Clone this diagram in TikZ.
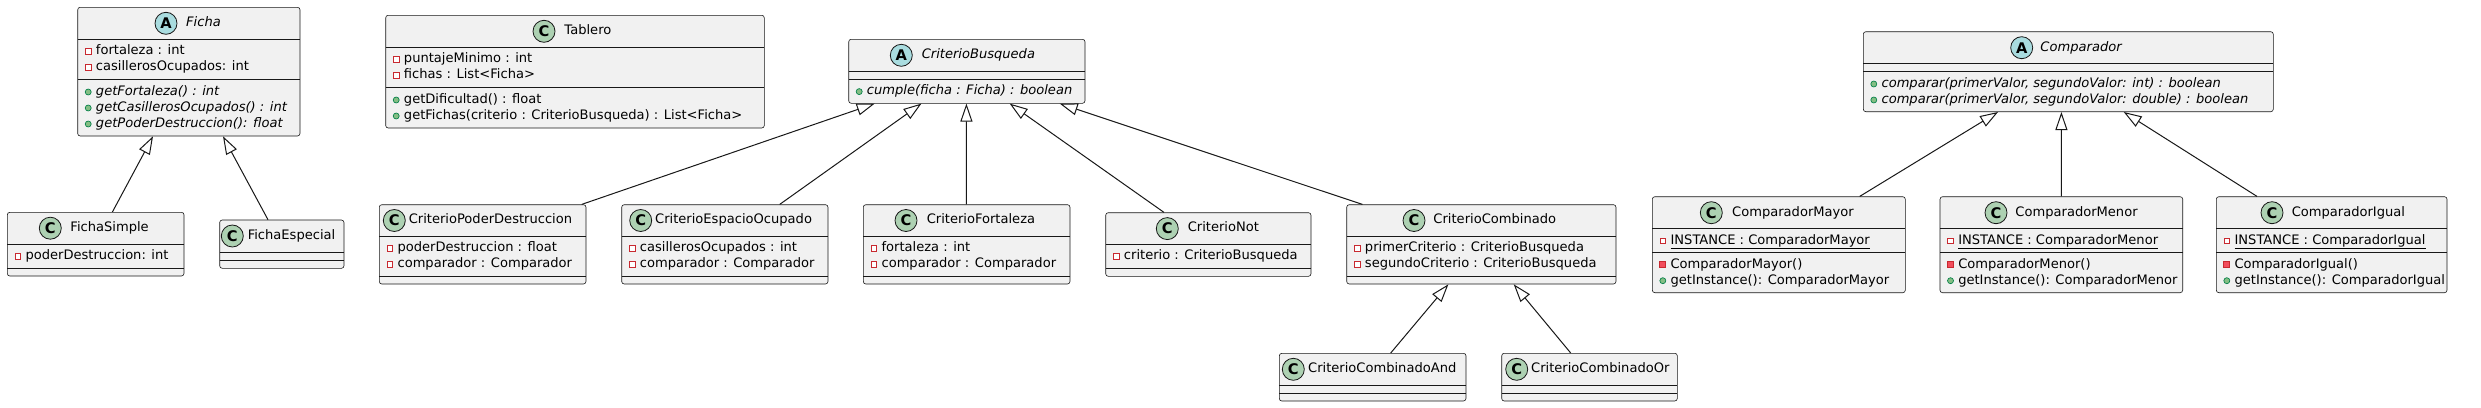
\documentclass[tikz,border=0pt]{standalone}
\usepackage{fontspec}
\setmainfont{DejaVu Sans}
\usetikzlibrary{arrows.meta,fit,calc}
\definecolor{boxfill}{HTML}{F1F1F1}
\definecolor{linec}{HTML}{181818}
\definecolor{cgreen}{HTML}{ADD1B2}
\definecolor{acyan}{HTML}{A9DCDF}
\definecolor{privred}{HTML}{C82930}
\definecolor{privfill}{HTML}{F24D5C}
\definecolor{pubgreen}{HTML}{038048}
\definecolor{pubfill}{HTML}{84BE84}
\newcounter{mc}
\tikzset{
  clsbox/.style={draw=linec, line width=0.45pt, fill=boxfill, rounded corners=1.9pt, inner sep=0pt},
  divl/.style={draw=linec, line width=0.45pt},
  cicon/.style={circle, draw=linec, line width=0.6pt, fill=cgreen, minimum size=16.5pt, inner sep=0pt, font=\fontsize{11}{11}\selectfont\bfseries},
  aicon/.style={cicon, fill=acyan},
  ttl/.style={anchor=west, inner sep=0pt, text height=0.75em, text depth=0.25em},
  mem/.style={anchor=west, inner sep=0pt, text height=0.75em, text depth=0.25em},
  pattr/.style={rectangle, draw=privred, line width=0.5pt, fill=white, minimum size=4.3pt, inner sep=0pt},
  pmeth/.style={rectangle, draw=privred, line width=0.5pt, fill=privfill, minimum size=4.5pt, inner sep=0pt},
  pubm/.style={circle, draw=pubgreen, line width=0.5pt, fill=pubfill, minimum size=4.5pt, inner sep=0pt},
  inh/.style={draw=linec, line width=0.75pt, -{Triangle[open, length=13.5pt, width=9pt]}}
}
% box: name, x1, y1, x2, y2
\newcommand\cbox[5]{\node[clsbox, fit={(#2,#3)(#4,#5)}] (#1) {};}
% header: name, icon style, letter, circle x, text x, y, title
\newcommand\chead[7]{\node[#2] (#1-i) at (#4,#6) {#3};\node[ttl] (#1-t) at (#5-0.8,#6) {#7};}
% divider: x1, x2, y
\newcommand\cdiv[3]{\draw[divl] (#1,#3) -- (#2,#3);}
% members: x1, y, text
\newcommand\mattr[3]{\stepcounter{mc}\node[pattr] (mi\themc) at (#1+10.5,#2) {};\node[mem] (mt\themc) at (#1+18,#2) {#3};}
\newcommand\mpub[3]{\stepcounter{mc}\node[pubm] (mi\themc) at (#1+10.5,#2) {};\node[mem] (mt\themc) at (#1+18,#2) {#3};}
\newcommand\mpriv[3]{\stepcounter{mc}\node[pmeth] (mi\themc) at (#1+10.5,#2) {};\node[mem] (mt\themc) at (#1+18,#2) {#3};}
\begin{document}
\begin{tikzpicture}[x=0.75pt,y=-0.75pt,font=\fontsize{9.8}{12}\selectfont]
\useasboundingbox[fill=white] (0,0) rectangle (2481,407);

% Ficha
\cbox{ficha}{77.7}{7.3}{300}{136}
\chead{ficha}{aicon}{A}{166}{186.7}{23.3}{\itshape Ficha}
\cdiv{77.7}{300}{39.3}\cdiv{77.7}{300}{79.3}
\mattr{77.7}{51.3}{fortaleza : int}
\mattr{77.7}{67.3}{casillerosOcupados: int}
\mpub{77.7}{92}{\itshape getFortaleza() : int}
\mpub{77.7}{108}{\itshape getCasillerosOcupados() : int}
\mpub{77.7}{124}{\itshape getPoderDestruccion(): float}

% FichaSimple
\cbox{fsimple}{7.3}{212.3}{184}{276}
\chead{fsimple}{cicon}{C}{50.3}{71}{228.2}{FichaSimple}
\cdiv{7.3}{184}{244}\cdiv{7.3}{184}{268}
\mattr{7.3}{256}{poderDestruccion: int}

% FichaEspecial
\cbox{fespecial}{219.7}{220}{344}{268.3}
\chead{fespecial}{cicon}{C}{232.3}{248.3}{236}{FichaEspecial}
\cdiv{219.7}{344}{252.3}\cdiv{219.7}{344}{260.3}

% Tablero
\cbox{tablero}{385.7}{15.3}{764.3}{128}
\chead{tablero}{cicon}{C}{544}{565}{31.3}{Tablero}
\cdiv{385.7}{764.3}{47.3}\cdiv{385.7}{764.3}{87.3}
\mattr{385.7}{59.3}{puntajeMinimo : int}
\mattr{385.7}{75.3}{fichas : List<Ficha>}
\mpub{385.7}{100}{getDificultad() : float}
\mpub{385.7}{116}{getFichas(criterio : CriterioBusqueda) : List<Ficha>}

% CriterioBusqueda
\cbox{cb}{848.7}{39.3}{1085}{103.3}
\chead{cb}{aicon}{A}{901.3}{922.3}{55.3}{\itshape CriterioBusqueda}
\cdiv{848.7}{1085}{71.3}\cdiv{848.7}{1085}{79.3}
\mpub{848.7}{91.6}{\itshape cumple(ficha : Ficha) : boolean}

% CriterioPoderDestruccion
\cbox{cpd}{379.3}{204.7}{586}{284}
\chead{cpd}{cicon}{C}{394.3}{409.3}{220.5}{CriterioPoderDestruccion}
\cdiv{379.3}{586}{236.5}\cdiv{379.3}{586}{276.3}
\mattr{379.3}{248.5}{poderDestruccion : float}
\mattr{379.3}{264.5}{comparador : Comparador}

% CriterioEspacioOcupado
\cbox{ceo}{621.7}{204.7}{828}{284}
\chead{ceo}{cicon}{C}{640.7}{655.7}{220.5}{CriterioEspacioOcupado}
\cdiv{621.7}{828}{236.5}\cdiv{621.7}{828}{276.3}
\mattr{621.7}{248.5}{casillerosOcupados : int}
\mattr{621.7}{264.5}{comparador : Comparador}

% CriterioFortaleza
\cbox{cf}{863.3}{204.7}{1070}{284}
\chead{cf}{cicon}{C}{906}{927.3}{220.5}{CriterioFortaleza}
\cdiv{863.3}{1070}{236.5}\cdiv{863.3}{1070}{276.3}
\mattr{863.3}{248.5}{fortaleza : int}
\mattr{863.3}{264.5}{comparador : Comparador}

% CriterioNot
\cbox{cn}{1105.7}{212.7}{1311}{276.3}
\chead{cn}{cicon}{C}{1167.3}{1188.3}{228.6}{CriterioNot}
\cdiv{1105.7}{1311}{244.5}\cdiv{1105.7}{1311}{268.3}
\mattr{1105.7}{256.4}{criterio : CriterioBusqueda}

% CriterioCombinado
\cbox{cc}{1346.7}{204.7}{1616}{284}
\chead{cc}{cicon}{C}{1414}{1434}{220.5}{CriterioCombinado}
\cdiv{1346.7}{1616}{236.5}\cdiv{1346.7}{1616}{276.3}
\mattr{1346.7}{248.5}{primerCriterio : CriterioBusqueda}
\mattr{1346.7}{264.5}{segundoCriterio : CriterioBusqueda}

% CriterioCombinadoAnd
\cbox{ccand}{1279.3}{353.3}{1466}{401}
\chead{ccand}{cicon}{C}{1293.3}{1308.7}{369.3}{CriterioCombinadoAnd}
\cdiv{1279.3}{1466}{385.3}\cdiv{1279.3}{1466}{393.3}

% CriterioCombinadoOr
\cbox{ccor}{1501.7}{353.3}{1677.3}{401}
\chead{ccor}{cicon}{C}{1516.7}{1531.7}{369.3}{CriterioCombinadoOr}
\cdiv{1501.7}{1677.3}{385.3}\cdiv{1501.7}{1677.3}{393.3}

% Comparador
\cbox{comp}{1863.3}{31.7}{2273.3}{111.7}
\chead{comp}{aicon}{A}{2021.7}{2041}{47.7}{\itshape Comparador}
\cdiv{1863.3}{2273.3}{63.7}\cdiv{1863.3}{2273.3}{71.7}
\mpub{1863.3}{84}{\itshape comparar(primerValor, segundoValor: int) : boolean}
\mpub{1863.3}{100}{\itshape comparar(primerValor, segundoValor: double) : boolean}

% ComparadorMayor
\cbox{cmayor}{1652.3}{196.7}{1905.3}{292.7}
\chead{cmayor}{cicon}{C}{1711.3}{1732.7}{212.7}{ComparadorMayor}
\cdiv{1652.3}{1905.3}{228.7}\cdiv{1652.3}{1905.3}{252.7}
\mattr{1652.3}{240.7}{\underline{INSTANCE : ComparadorMayor}}
\mpriv{1652.3}{264.7}{ComparadorMayor()}
\mpub{1652.3}{280.7}{getInstance(): ComparadorMayor}

% ComparadorMenor
\cbox{cmenor}{1940}{196.7}{2182.7}{292.7}
\chead{cmenor}{cicon}{C}{1996}{2016}{212.7}{ComparadorMenor}
\cdiv{1940}{2182.7}{228.7}\cdiv{1940}{2182.7}{252.7}
\mattr{1940}{240.7}{\underline{INSTANCE : ComparadorMenor}}
\mpriv{1940}{264.7}{ComparadorMenor()}
\mpub{1940}{280.7}{getInstance(): ComparadorMenor}

% ComparadorIgual
\cbox{cigual}{2216.3}{196.7}{2447}{292.7}
\chead{cigual}{cicon}{C}{2272}{2292.3}{212.7}{ComparadorIgual}
\cdiv{2216.3}{2447}{228.7}\cdiv{2216.3}{2447}{252.7}
\mattr{2216.3}{240.7}{\underline{INSTANCE : ComparadorIgual}}
\mpriv{2216.3}{264.7}{ComparadorIgual()}
\mpub{2216.3}{280.7}{getInstance(): ComparadorIgual}

% inheritance connectors
\draw[inh] ($(fsimple.north west)+(105.4,0)$) -- ($(ficha.south west)+(75.6,0)$);
\draw[inh] ($(fespecial.north west)+(48.6,0)$) -- ($(ficha.south west)+(145.6,0)$);
\draw[inh] ($(cpd.north west)+(202.7,0)$) -- ($(cb.south west)+(26.3,0)$);
\draw[inh] ($(ceo.north west)+(158.3,0)$) -- ($(cb.south west)+(73,0)$);
\draw[inh] ($(cf.north west)+(103.4,0)$) -- ($(cb.south west)+(118,0)$);
\draw[inh] ($(cn.north west)+(58.6,0)$) -- ($(cb.south west)+(161.3,0)$);
\draw[inh] ($(cc.north west)+(16,0)$) -- ($(cb.south west)+(211.3,0)$);
\draw[inh] ($(ccand.north west)+(111.7,0)$) -- ($(cc.south west)+(102,0)$);
\draw[inh] ($(ccor.north west)+(69.3,0)$) -- ($(cc.south west)+(167.3,0)$);
\draw[inh] ($(cmayor.north west)+(207.7,0)$) -- ($(comp.south west)+(135,0)$);
\draw[inh] ($(cmenor.north west)+(121.7,0)$) -- ($(comp.south west)+(198.4,0)$);
\draw[inh] ($(cigual.north west)+(41,0)$) -- ($(comp.south west)+(260.7,0)$);
\end{tikzpicture}
\end{document}
